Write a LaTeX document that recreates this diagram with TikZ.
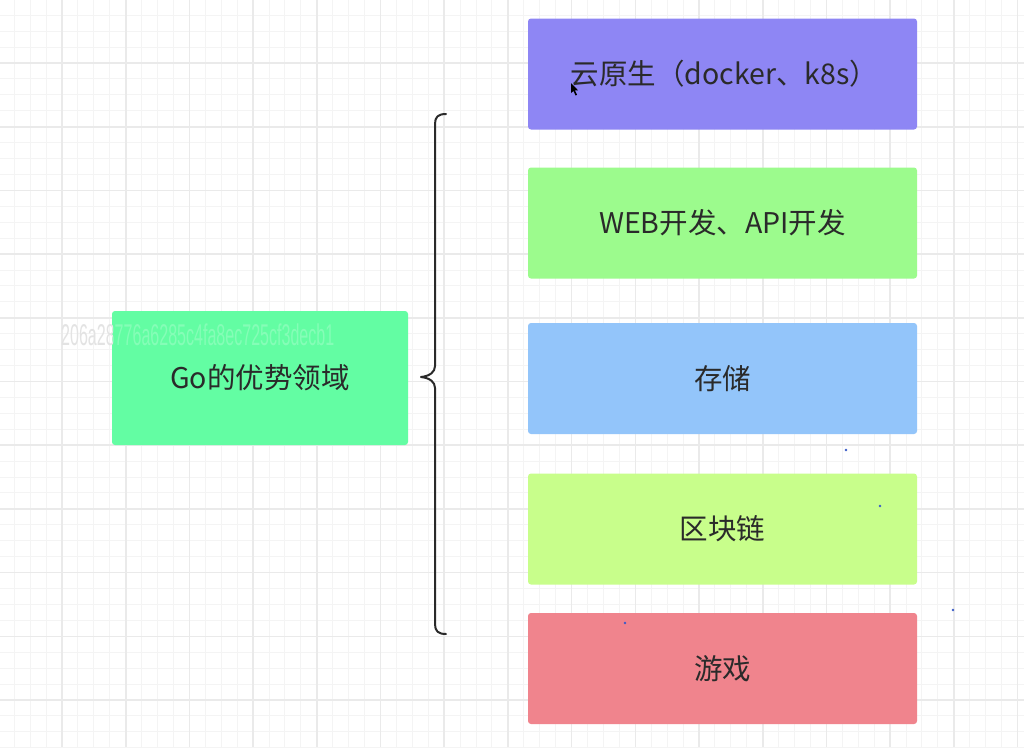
\documentclass[tikz,border=0pt]{standalone}
\usepackage{fontspec}
\setmainfont{Noto Sans CJK SC}
\newfontfamily\wmfont{Liberation Sans}
\begin{document}
\begin{tikzpicture}[x=1pt,y=-1pt,
  box/.style={rounded corners=3pt, minimum width=389pt, minimum height=111pt, inner sep=0pt,
    text=txtcol, font=\fontsize{28.5}{32}\selectfont},
  minorline/.style={draw=gridminor, line width=1pt},
  majorline/.style={draw=gridmajor, line width=1.6pt},
  bracestyle/.style={draw=txtcol, line width=2pt, line cap=round, line join=round},
  dotstyle/.style={fill=dotblue, draw=none},
  wmstyle/.style={anchor=west, inner sep=0pt, font=\wmfont\fontsize{30}{30}\selectfont}
]
\definecolor{txtcol}{HTML}{2A2A2A}
\definecolor{gridminor}{HTML}{F4F4F4}
\definecolor{gridmajor}{HTML}{EAEAEA}
\definecolor{cpurple}{HTML}{8E86F4}
\definecolor{cgreen}{HTML}{9CFB8D}
\definecolor{cblue}{HTML}{93C5FA}
\definecolor{clime}{HTML}{C8FE8B}
\definecolor{cpink}{HTML}{F0848D}
\definecolor{cleft}{HTML}{63FDA3}
\definecolor{dotblue}{HTML}{3A5BC7}
\useasboundingbox (0,0) rectangle (1024,747);
\fill[white] (0,0) rectangle (1024,747);
% grid
\foreach \i in {-3,...,61} {
  \draw[minorline] ({62+\i*15.925},0) -- ({62+\i*15.925},747);
}
\foreach \i in {-3,...,44} {
  \draw[minorline] (0,{63+\i*15.925}) -- (1024,{63+\i*15.925});
}
\foreach \i in {0,...,15} {
  \draw[majorline] ({62+\i*63.7},0) -- ({62+\i*63.7},747);
}
\foreach \i in {-1,...,11} {
  \draw[majorline] (0,{63+\i*63.7}) -- (1024,{63+\i*63.7});
}
% left box
\node[box, fill=cleft, minimum width=296pt, minimum height=134pt] (go) at (260,378) {Go的优势领域};
% watermark: grey on the paper, lighter over the box
\begin{scope}
  \clip (0,300) rectangle (112,360);
  \node[wmstyle, text=black!11] (wm) at (61,335)
    {\scalebox{0.535}[1]{206a28776a6285c4fa8ec725cf3decb1}};
\end{scope}
\begin{scope}
  \clip (112,300) rectangle (408,360);
  \node[wmstyle, text=white, text opacity=0.22] (wm2) at (61,335)
    {\scalebox{0.535}[1]{206a28776a6285c4fa8ec725cf3decb1}};
\end{scope}
% right boxes
\node[box, fill=cpurple] (b1) at (722.5,74) {\hspace*{4pt}云原生（docker、k8s）};
\node[box, fill=cgreen] (b2) at (722.5,223) {WEB开发、API开发};
\node[box, fill=cblue] (b3) at (722.5,378.5) {存储};
\node[box, fill=clime] (b4) at (722.5,529) {区块链};
\node[box, fill=cpink] (b5) at (722.5,668.5) {游戏};
% brace
\draw[bracestyle] (446,114) .. controls (438,114) and (435,117) .. (435,124)
  -- (435,366) .. controls (435,372) and (430,376) .. (421,377)
  .. controls (430,378) and (435,382) .. (435,388)
  -- (435,624) .. controls (435,631) and (438,634) .. (446,634);
% cursor
\fill[black] (571,83) -- (571,93) -- (573.5,91) -- (575.5,95.5) -- (577,94.8) -- (575,90.5) -- (578,90.3) -- cycle;
% dots
\fill[dotstyle] (846,450) circle (1.3);
\fill[dotstyle] (880,506) circle (1.3);
\fill[dotstyle] (953,610) circle (1.3);
\fill[dotstyle] (625,623) circle (1.3);
\end{tikzpicture}
\end{document}
